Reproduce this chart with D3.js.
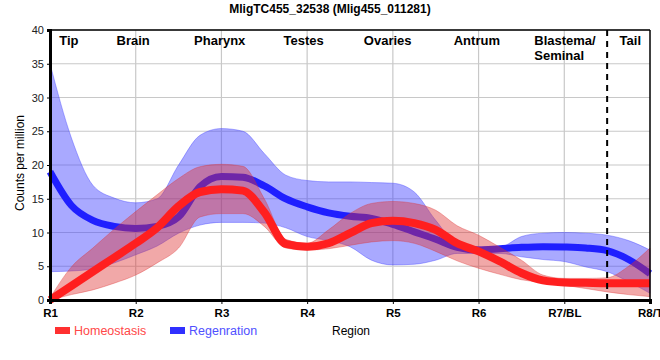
<!DOCTYPE html>
<html><head><meta charset="utf-8">
<script src="https://cdn.jsdelivr.net/npm/d3@7"></script>
<style>body{margin:0;background:#fff}svg{display:block;font-family:"Liberation Sans",Arial,sans-serif}</style>
</head><body><svg id="c" width="660" height="360"></svg>
<script>
const pos = [0,0.25,0.5,0.75,1,1.25,1.5,1.75,2,2.25,2.5,2.75,3,3.25,3.5,3.75,4,4.25,4.5,4.75,5,5.25,5.5,5.75,6,6.25,6.5,6.75,7];
const regenMean  = [19.0,14.0,11.8,10.9,10.6,10.9,12.3,16.8,18.3,18.2,16.9,15.0,13.8,12.9,12.4,12.1,11.2,10.1,9.0,7.8,7.4,7.6,7.8,7.9,7.85,7.7,7.3,6.0,3.9];
const regenUpper = [35,24,17,15.1,14.4,15.0,20.0,24.4,25.4,25.0,21.7,18.5,17.7,17.5,17.5,17.4,17.3,16.0,11.8,8.4,7.9,7.9,9.4,9.9,10.0,9.9,9.6,8.8,7.4];
const regenLower = [4.2,4.3,4.6,5.5,6.7,8.0,9.9,11.1,11.5,11.5,11.4,10.7,9.4,8.8,7.9,5.9,5.2,5.3,5.9,6.9,6.9,6.9,6.4,6.0,5.7,4.9,4.2,2.7,1.0];
const homeoMean  = [0,2.1,4.2,6.3,8.4,10.7,13.9,16.0,16.4,16.2,13.0,8.3,7.9,8.4,9.9,11.4,11.75,11.4,10.4,8.4,7.2,5.7,4.0,2.9,2.6,2.55,2.5,2.5,2.5];
const homeoUpper = [0.3,4.9,7.7,10.5,13.1,15.6,18.0,19.75,20.1,19.8,15.0,9.0,8.4,10.4,12.8,14.3,14.6,14.3,13.3,11.0,9.6,7.8,5.9,3.7,3.2,3.2,3.3,5.0,7.7];
const homeoLower = [0,0.8,1.5,2.5,3.7,5.5,7.7,12.3,12.8,12.8,10.9,7.7,7.4,7.6,8.1,8.6,8.8,8.4,7.2,5.8,4.7,3.8,3.0,2.6,2.2,1.7,1.2,0.8,0.5];
const tickLabels = ["R1","R2","R3","R4","R5","R6","R7/BL","R8/T"];
const yTicks = [0,5,10,15,20,25,30,35,40];
const regionNames = [["Tip"],["Brain"],["Pharynx"],["Testes"],["Ovaries"],["Antrum"],["Blastema/","Seminal"],["Tail"]];
const regionAt = [0.22,0.97,1.98,2.96,3.94,4.98,5.65,6.77];
const regionAnchor = ["middle","middle","middle","middle","middle","middle","start","middle"];
const dividerAt = 6.5;
const seriesNames = ["Homeostasis","Regenration"];

const svg = d3.select("#c");
const L=50,R=650,T=30,B=300;
const x = d3.scaleLinear().domain([0,7]).range([L,R]);
const y = d3.scaleLinear().domain([0,40]).range([B,T]);

// grid
const g = svg.append("g");
g.selectAll(".gy").data(yTicks.slice(1)).join("line")
  .attr("x1",L).attr("x2",R).attr("y1",d=>y(d)).attr("y2",d=>y(d))
  .attr("stroke","#c8c8c8").attr("stroke-width",1.2);
g.selectAll(".gx").data(d3.range(1,7)).join("line")
  .attr("x1",d=>x(d)).attr("x2",d=>x(d)).attr("y1",T).attr("y2",B)
  .attr("stroke","#c8c8c8").attr("stroke-width",1.2);

const curve = d3.curveMonotoneX;
const mk = (lo,hi)=>pos.map((p,i)=>({p,lo:lo[i],hi:hi[i]}));
const area = d3.area().x(d=>x(d.p)).y0(d=>y(d.lo)).y1(d=>y(d.hi)).curve(curve);
const line = d3.line().x((d,i)=>x(pos[i])).y(d=>y(d)).curve(curve);

const plot = svg.append("g");
plot.append("path").datum(mk(regenLower,regenUpper)).attr("d",area)
  .attr("fill","rgba(64,64,255,0.45)").attr("stroke","rgba(64,64,255,0.5)").attr("stroke-width",0.8);
plot.append("path").datum(regenMean).attr("d",line)
  .attr("fill","none").attr("stroke","#1f1fff").attr("stroke-width",7);
plot.append("path").datum(mk(homeoLower,homeoUpper)).attr("d",area)
  .attr("fill","rgba(222,48,48,0.42)").attr("stroke","rgba(222,48,48,0.45)").attr("stroke-width",0.8);
plot.append("path").datum(homeoMean).attr("d",line)
  .attr("fill","none").attr("stroke","#ff1f1f").attr("stroke-width",8);

// divider
svg.append("line").attr("x1",x(dividerAt)).attr("x2",x(dividerAt)).attr("y1",T).attr("y2",B)
  .attr("stroke","#000").attr("stroke-width",2).attr("stroke-dasharray","6,5");

// frame
svg.append("line").attr("x1",L).attr("x2",R).attr("y1",T).attr("y2",T).attr("stroke","#000").attr("stroke-width",1.5);
svg.append("line").attr("x1",R).attr("x2",R).attr("y1",T).attr("y2",B).attr("stroke","#000").attr("stroke-width",1.5);

// axes
const ya = svg.append("g").attr("transform",`translate(${L},0)`)
  .call(d3.axisLeft(y).tickValues(yTicks).tickSize(3).tickFormat(d3.format("d")));
ya.select(".domain").attr("stroke","#000").attr("stroke-width",3);
ya.selectAll("text").attr("font-size",11).attr("fill","#222").attr("font-family","Liberation Sans, Arial");
const xa = svg.append("g").attr("transform",`translate(0,${B})`)
  .call(d3.axisBottom(x).tickValues(d3.range(0,8)).tickSize(4).tickFormat(i=>tickLabels[i]));
xa.select(".domain").attr("stroke","#000").attr("stroke-width",3);
xa.selectAll("text").attr("font-size",11.5).attr("font-weight","bold").attr("fill","#000").attr("dy","0.9em").attr("font-family","Liberation Sans, Arial");

// region labels
regionNames.forEach((ln,i)=>{
  const t = svg.append("text").attr("x",x(regionAt[i])).attr("y",45)
    .attr("text-anchor",regionAnchor[i]).attr("font-size",13).attr("font-weight","bold").attr("fill","#000");
  ln.forEach((s,j)=>t.append("tspan").attr("x",x(regionAt[i])).attr("dy",j?15:0).text(s));
});

// title
svg.append("text").attr("x",330).attr("y",13).attr("text-anchor","middle")
  .attr("font-size",12).attr("font-weight","bold").text("MligTC455_32538 (Mlig455_011281)");
// axis titles
svg.append("text").attr("transform","translate(24,163) rotate(-90)").attr("text-anchor","middle")
  .attr("font-size",12).text("Counts per million");
svg.append("text").attr("x",351).attr("y",335).attr("text-anchor","middle").attr("font-size",12).text("Region");

// legend
const leg = [{n:seriesNames[0],c:"#ff3030",t:"#ff4848",x:55},{n:seriesNames[1],c:"#3030ff",t:"#5050ff",x:170}];
leg.forEach(d=>{
  svg.append("rect").attr("x",d.x).attr("y",327).attr("width",15).attr("height",7).attr("fill",d.c);
  svg.append("text").attr("x",d.x+19).attr("y",335).attr("font-size",12.5).attr("fill",d.t).text(d.n);
});
</script></body></html>
